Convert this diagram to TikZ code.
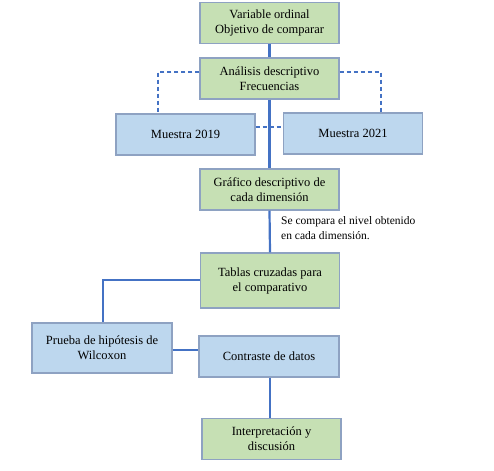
\documentclass[tikz,border=0pt]{standalone}
\usepackage{fontspec}
\setmainfont{Liberation Serif}
\definecolor{gfill}{HTML}{C6E0B4}
\definecolor{bfill}{HTML}{BDD7EE}
\definecolor{bord}{HTML}{8EA2C2}
\definecolor{lineblue}{HTML}{4472C4}
\begin{document}
\begin{tikzpicture}[x=1pt,y=-1pt,
  box/.style={draw=bord,line width=1.3pt,minimum width=139pt,minimum height=41pt,align=center,font=\fontsize{12.5}{15}\selectfont,inner sep=0pt},
  gbox/.style={box,fill=gfill},
  bbox/.style={box,fill=bfill},
  conn/.style={draw=lineblue,line width=2.2pt},
  dconn/.style={draw=lineblue,line width=1.2pt,dash pattern=on 4pt off 3pt}]
\useasboundingbox (0,0) rectangle (494,470);
\coordinate (dl) at (158,72);
\coordinate (dr) at (381,72);
\coordinate (tl) at (103,280);
\node[gbox] (v) at (269.5,23) {Variable ordinal\\Objetivo de comparar};
\node[gbox] (a) at (269.5,78.5) {Análisis descriptivo\\Frecuencias};
\node[bbox] (m19) at (185.5,134.5) {Muestra 2019};
\node[bbox] (m21) at (353,133.5) {Muestra 2021};
\node[gbox] (g) at (269.5,189.5) {Gráfico descriptivo de\\cada dimensión};
\node[gbox,minimum height=55pt] (t) at (270,280.5) {Tablas cruzadas para\\el comparativo};
\node[bbox,minimum width=140pt,minimum height=50pt] (p) at (102,348) {Prueba de hipótesis de\\Wilcoxon};
\node[bbox,minimum width=140pt] (c) at (269,356.5) {Contraste de datos};
\node[gbox] (i) at (271.5,439) {Interpretación y\\discusión};
\node[anchor=north west,align=left,inner sep=0pt,font=\fontsize{11.5}{15}\selectfont] (lab) at (281,216) {Se compara el nivel obtenido\\en cada dimensión.};
\draw[conn] (v.south) -- (a.north);
\draw[conn] (a.south) -- (g.north);
\draw[conn] (g.south) -- (t.north);
\draw[dconn] (a.west |- dl) -- (dl) -- (dl |- m19.north);
\draw[dconn] (a.east |- dr) -- (dr) -- (dr |- m21.north);
\draw[dconn] (m19.east |- 0,127) -- (m21.west |- 0,127);
\draw[conn] (t.west |- tl) -- (tl) -- (tl |- p.north);
\draw[conn] (p.east |- 0,350) -- (c.west |- 0,350);
\draw[conn] (c.south -| 270,0) -- (i.north -| 270,0);
\end{tikzpicture}
\end{document}
